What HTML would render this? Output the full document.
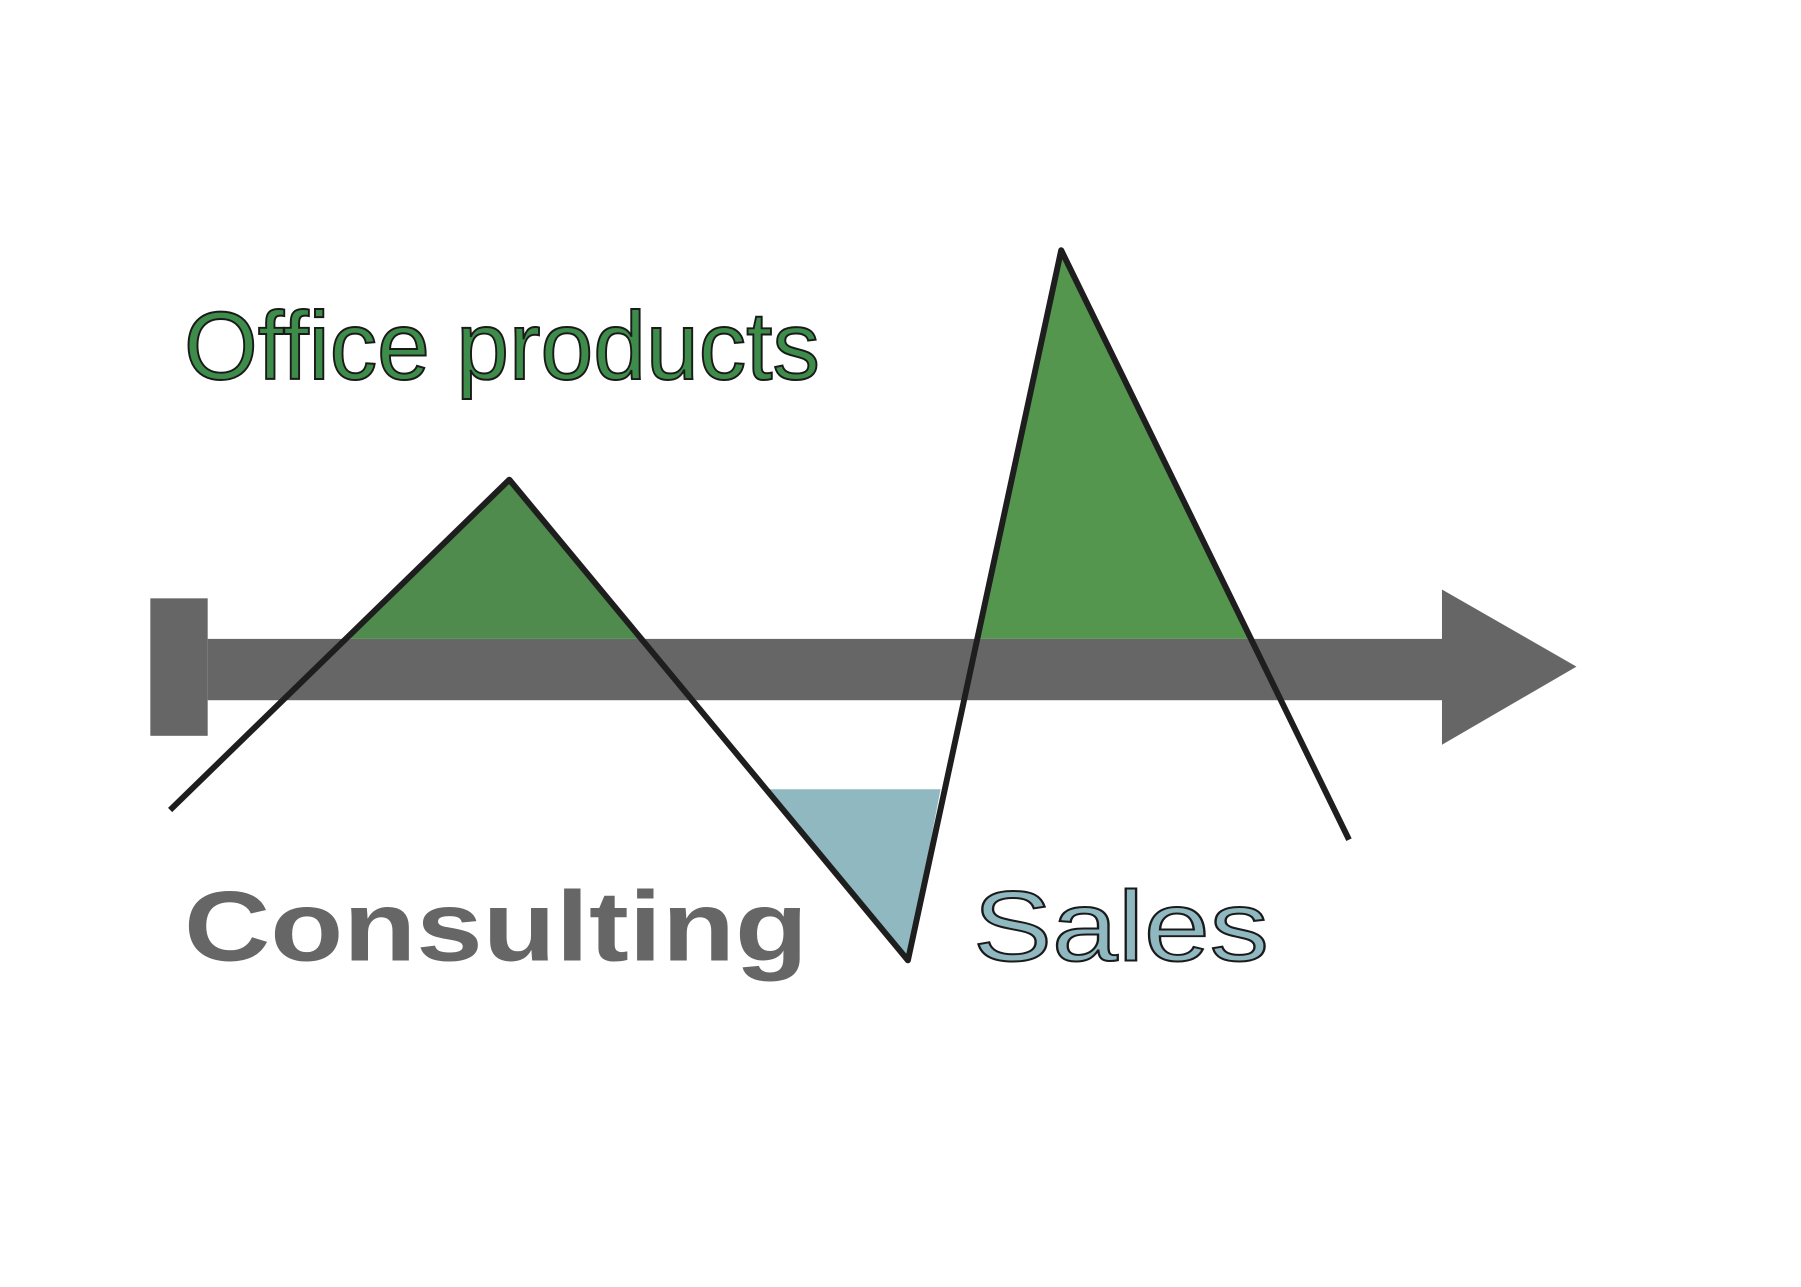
<!DOCTYPE html>
<html><head><meta charset="utf-8"><style>html,body{margin:0;padding:0;background:#fff}svg{display:block}</style></head>
<body>
<svg width="1801" height="1287" viewBox="0 0 1801 1287" xmlns="http://www.w3.org/2000/svg">
<rect width="1801" height="1287" fill="#fff"/>
<g transform="scale(0.989)">
<polygon points="515,485 349,646 648,646" fill="#4e8b4c"/>
<polygon points="1073,253 988,646 1264,646" fill="#55964f"/>
<polygon points="777,798 951,798 918,971" fill="#8fb8c0"/>
<rect x="152" y="605" width="58" height="139" fill="#666"/>
<rect x="210" y="646" width="1250" height="62" fill="#666"/>
<polygon points="1458,596 1594,674 1458,753" fill="#666"/>
<polyline points="172,819 515,485 918,971 1073,253 1364,849" fill="none" stroke="#1e1e1e" stroke-width="6" stroke-linejoin="round"/>
<text x="186" y="383" font-family="Liberation Sans, sans-serif" font-size="98" fill="#3d8c4a" stroke="#1a1a1a" stroke-width="2" textLength="643" lengthAdjust="spacingAndGlyphs">Office products</text>
<text x="186" y="971" font-family="Liberation Sans, sans-serif" font-weight="bold" font-size="100" fill="#666" textLength="631" lengthAdjust="spacingAndGlyphs">Consulting</text>
<text x="984" y="971" font-family="Liberation Sans, sans-serif" font-size="100" fill="#8fb8c0" stroke="#1a1a1a" stroke-width="2" textLength="299" lengthAdjust="spacingAndGlyphs">Sales</text>
</g>
</svg>
</body></html>
